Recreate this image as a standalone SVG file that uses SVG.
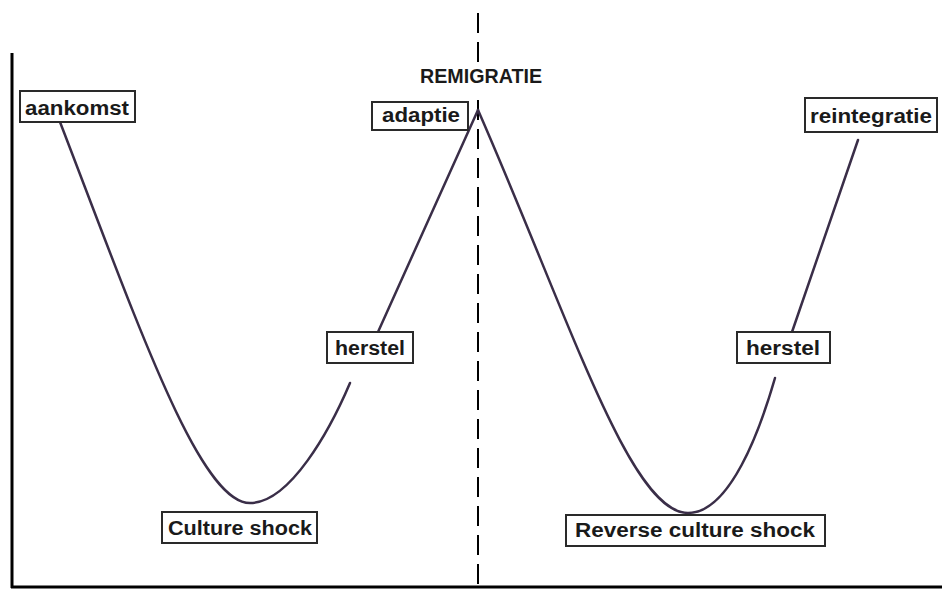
<svg xmlns="http://www.w3.org/2000/svg" width="946" height="591" viewBox="0 0 946 591">
<style>
.box{fill:#fff;stroke:#2a2a2a;stroke-width:2}
.lbl{font-family:"Liberation Sans",Arial,sans-serif;font-weight:bold;font-size:20px;fill:#1a1a1a;text-anchor:middle}
.curve{fill:none;stroke:#3a2e48;stroke-width:2.5;stroke-linecap:round}
.axis{stroke:#000;stroke-width:3;fill:none}
</style>
<rect width="946" height="591" fill="#fff"/>
<g id="axes">
<line class="axis" x1="12" y1="53" x2="12" y2="588"/>
<line class="axis" x1="11" y1="587" x2="942" y2="587"/>
</g>
<g id="divider">
<line x1="478" y1="13" x2="478" y2="591" stroke="#000" stroke-width="2" stroke-dasharray="20 9"/>
</g>
<g id="connectors">
<path class="curve" d="M60,122 C140,330 200,503 250,503 C290,503 330,430 350,383"/>
<path class="curve" d="M378,332 L478,110"/>
<path class="curve" d="M478,110 C570,320 630,513 688,513 C730,513 760,430 775,378"/>
<path class="curve" d="M792,332 L858,140"/>
</g>
<g id="remigratie">
<rect x="418" y="65" width="126" height="30" fill="#fff"/>
<text class="lbl" x="481" y="83" font-size="18" textLength="122" lengthAdjust="spacingAndGlyphs">REMIGRATIE</text>
</g>
<g id="aankomst">
<rect class="box" x="20" y="91" width="115" height="31"/>
<text class="lbl" x="77" y="115" textLength="104" lengthAdjust="spacingAndGlyphs">aankomst</text>
</g>
<g id="adaptie">
<rect class="box" x="372" y="102" width="96" height="28"/>
<text class="lbl" x="421" y="122" textLength="78" lengthAdjust="spacingAndGlyphs">adaptie</text>
</g>
<g id="reintegratie">
<rect class="box" x="805" y="98" width="132" height="34"/>
<text class="lbl" x="871" y="123" textLength="122" lengthAdjust="spacingAndGlyphs">reintegratie</text>
</g>
<g id="herstel1">
<rect class="box" x="327" y="332" width="86" height="31"/>
<text class="lbl" x="370" y="355" textLength="70" lengthAdjust="spacingAndGlyphs">herstel</text>
</g>
<g id="herstel2">
<rect class="box" x="737" y="332" width="93" height="31"/>
<text class="lbl" x="783" y="355" textLength="74" lengthAdjust="spacingAndGlyphs">herstel</text>
</g>
<g id="cultureshock">
<rect class="box" x="162" y="512" width="155" height="31"/>
<text class="lbl" x="240" y="535" textLength="144" lengthAdjust="spacingAndGlyphs">Culture shock</text>
</g>
<g id="reverseshock">
<rect class="box" x="566" y="515" width="259" height="31"/>
<text class="lbl" x="695" y="537" textLength="240" lengthAdjust="spacingAndGlyphs">Reverse culture shock</text>
</g>
</svg>
